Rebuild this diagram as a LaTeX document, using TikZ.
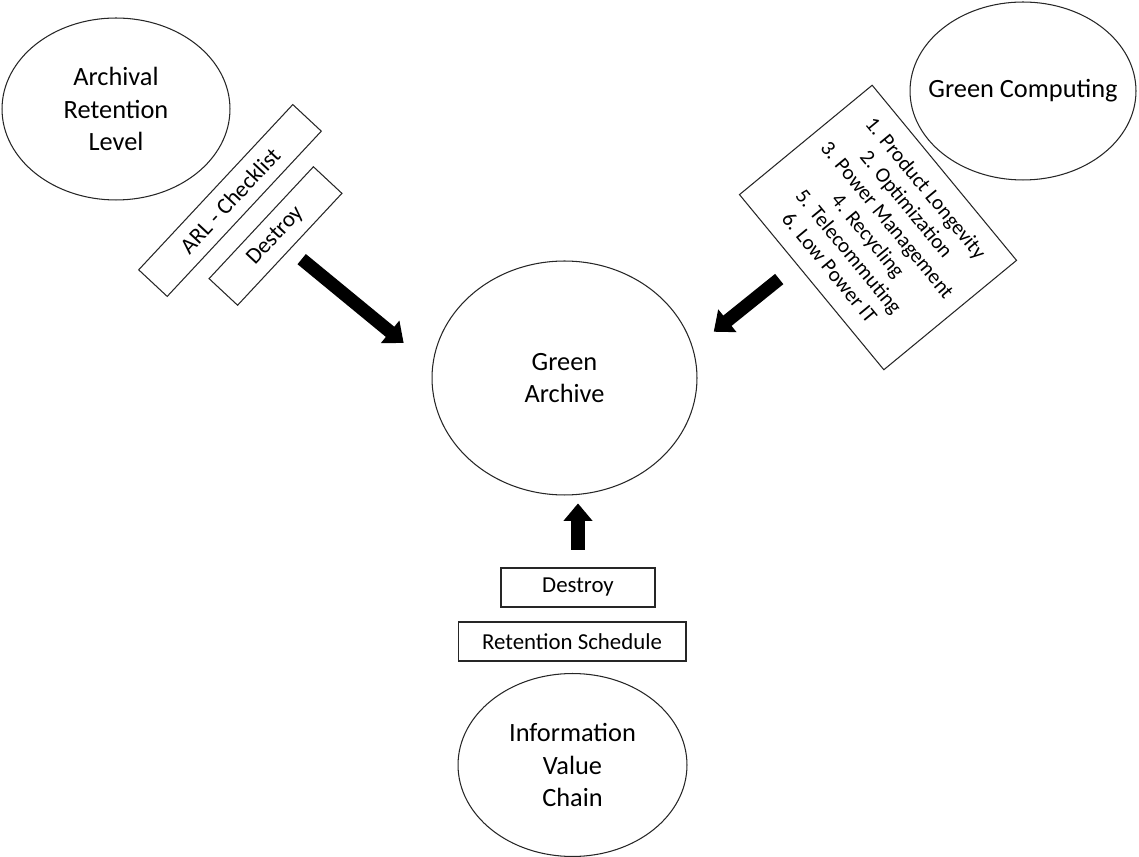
\documentclass[tikz,border=0pt]{standalone}
\usepackage{fontspec}
\setmainfont{Carlito}
\usetikzlibrary{shapes.geometric,arrows.meta,calc}

\begin{document}
\begin{tikzpicture}[x=0.02cm,y=-0.02cm]
        \tikzstyle{every node}=[draw=black!85,line width=0.6pt,inner sep=0pt,align=center]
        \tikzstyle{bubble}=[ellipse,font=\fontsize{15}{18.5}\selectfont]
        \tikzstyle{tag}=[rectangle,minimum height=0.78cm,font=\fontsize{13}{15}\selectfont]
        \tikzstyle{bigarrow}=[line width=7.5pt,-{Triangle[length=10pt,width=16pt]}]
        \useasboundingbox (0,0) rectangle (1139,857);
        \node[bubble,minimum width=4.56cm,minimum height=3.64cm] (arl) at (116,109) {Archival\\Retention\\Level};
        \node[bubble,inner xsep=-12pt,minimum width=4.52cm,minimum height=3.56cm] (gc) at (1023,91) {Green Computing};
        \node[bubble,minimum width=5.3cm,minimum height=4.68cm] (archive) at (564.5,378) {Green\\Archive};
        \node[bubble,minimum width=4.58cm,minimum height=3.66cm] (ivc) at (572.5,765) {Information\\Value\\Chain};
        \node[tag,rotate=47,minimum width=4.52cm] (checklist) at (230,200.5) {ARL - Checklist};
        \node[tag,rotate=47,minimum width=3.06cm] (ldestroy) at (275.5,236) {Destroy};
        \node[tag,rotate=-50.5,minimum width=4.54cm,minimum height=3.44cm,font=\fontsize{12}{14.2}\selectfont] (glist) at (878,227.5)
            {1. Product Longevity\\2. Optimization\\3. Power Management\\4. Recycling\\5. Telecommuting\\6. Low Power IT};
        \node[tag,minimum width=3.08cm] (bdestroy) at (578,587.5) {Destroy};
        \node[tag,minimum width=4.56cm] (schedule) at (572,641.5) {Retention Schedule};
        \draw[bigarrow,shorten <=8.5pt,shorten >=21pt] (ldestroy.south) -- (archive.175);
        \draw[bigarrow,shorten <=12.8pt,shorten >=15pt] ($(glist.south)!.2!(glist.south west)$) -- (archive.13);
        \draw[bigarrow,shorten <=10pt,shorten >=4.5pt] (bdestroy.north) -- (bdestroy.north |- archive.south);
\end{tikzpicture}
\end{document}
